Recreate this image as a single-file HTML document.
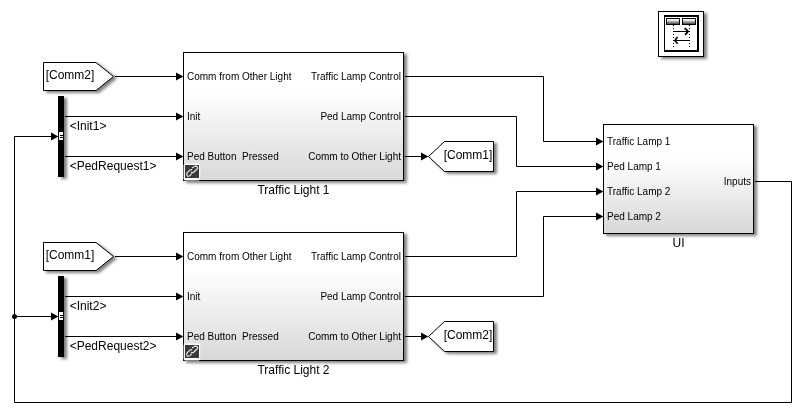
<!DOCTYPE html>
<html><head><meta charset="utf-8">
<style>
html,body{margin:0;padding:0;background:#fff;width:801px;height:413px;overflow:hidden}
svg{display:block;font-family:"Liberation Sans",sans-serif}
.pl{font-size:10px;fill:#000}
.bl{font-size:12px;fill:#000}
</style></head><body>
<svg width="801" height="413" viewBox="0 0 801 413">
<defs>
  <linearGradient id="g" x1="0" y1="0" x2="0" y2="1">
    <stop offset="0.3" stop-color="#ffffff"/>
    <stop offset="1" stop-color="#d8d8d8"/>
  </linearGradient>
  <linearGradient id="hg" x1="0" y1="0" x2="0" y2="1">
    <stop offset="0.15" stop-color="#ffffff"/>
    <stop offset="1" stop-color="#444"/>
  </linearGradient>
  <filter id="sh" x="-20%" y="-20%" width="140%" height="140%">
    <feGaussianBlur in="SourceAlpha" stdDeviation="1.5"/>
    <feOffset dx="2.5" dy="1.8" result="b"/>
    <feComponentTransfer><feFuncA type="linear" slope="0.5"/></feComponentTransfer>
    <feMerge><feMergeNode/><feMergeNode in="SourceGraphic"/></feMerge>
  </filter>
  <filter id="gs" x="0" y="0" width="1" height="1"><feOffset dx="0" dy="0"/></filter>
  <g id="arr"><path d="M-7,-4.1 L0.4,0 L-7,4.1 Z"/></g>
</defs>

<!-- model info icon -->
<g filter="url(#sh)">
  <rect x="658.5" y="11.5" width="45" height="45" fill="#fff" stroke="#000" stroke-width="1"/>
</g>
<g shape-rendering="crispEdges">
  <rect x="664" y="15" width="35" height="37" fill="#000"/>
  <rect x="665" y="17" width="32" height="33" fill="#fff"/>
  <rect x="666" y="18" width="14" height="7" fill="#000"/>
  <rect x="682" y="18" width="14" height="7" fill="#000"/>
  <rect x="667" y="19" width="12" height="5" fill="url(#hg)"/>
  <rect x="683" y="19" width="12" height="5" fill="url(#hg)"/>
  <g fill="#000">
    <rect x="673" y="25" width="1" height="1"/><rect x="689" y="25" width="1" height="1"/>
    <rect x="673" y="28" width="1" height="1"/><rect x="689" y="28" width="1" height="1"/>
    <rect x="673" y="34" width="1" height="1"/><rect x="689" y="34" width="1" height="1"/>
    <rect x="673" y="37" width="1" height="1"/><rect x="689" y="37" width="1" height="1"/>
    <rect x="673" y="43" width="1" height="1"/><rect x="689" y="43" width="1" height="1"/>
    <rect x="673" y="46" width="1" height="1"/><rect x="689" y="46" width="1" height="1"/>
    <rect x="673" y="31" width="17" height="1"/>
    <rect x="673" y="40" width="17" height="1"/>
  </g>
</g>
<path d="M684.5,28.3 Q686.8,29.6 687.9,31.5 Q686.8,33.4 685,34.7 M677.6,37.2 Q675.9,38.8 675.1,40.5 Q675.9,42.2 677.6,43.6" stroke="#000" stroke-width="1.7" fill="none"/>
<path d="M672.8,25 L674.2,25 L673.5,26.5 Z M688.8,25 L690.2,25 L689.5,26.5 Z" fill="#000"/>

<!-- blocks with shadow -->
<g filter="url(#sh)">
  <rect x="183.5" y="52.5" width="220" height="128" fill="url(#g)" stroke="#000"/>
  <rect x="183.5" y="232.5" width="220" height="128" fill="url(#g)" stroke="#000"/>
  <rect x="603.5" y="124.5" width="150" height="109" fill="url(#g)" stroke="#000"/>
  <rect x="58" y="96" width="6" height="81" fill="#000"/>
  <rect x="58" y="276" width="6" height="81" fill="#000"/>
  <polygon points="43.5,62.5 96,62.5 113.5,76.5 96,90.5 43.5,90.5" fill="#fff" stroke="#000"/>
  <polygon points="43.5,242.5 96,242.5 113.5,256.5 96,270.5 43.5,270.5" fill="#fff" stroke="#000"/>
  <polygon points="428.5,156.5 444.5,141.5 493.5,141.5 493.5,171.5 444.5,171.5" fill="#fff" stroke="#000"/>
  <polygon points="428.5,336.5 444.5,321.5 493.5,321.5 493.5,351.5 444.5,351.5" fill="#fff" stroke="#000"/>
</g>

<!-- bus selector input markers -->
<rect x="59" y="132" width="4" height="8" fill="#fff"/>
<path d="M60,135.5 H63 M60,137.5 H63" stroke="#000"/>
<rect x="59" y="312" width="4" height="8" fill="#fff"/>
<path d="M60,315.5 H63 M60,317.5 H63" stroke="#000"/>

<!-- link icons -->
<g id="lnk">
  <rect x="183.6" y="163.6" width="16.6" height="17" rx="1.8" fill="#fff"/>
  <rect x="185" y="165" width="14" height="13" fill="#3a3a3a"/>
  <g fill="none" stroke="#f0f0f0" stroke-width="1.15" stroke-linecap="round">
    <path d="M191.7,169.6 Q190.8,169.4 189.9,170.1 L187.1,172.9 Q186,174.3 187.2,175.7 Q188.5,176.8 190,175.6 L191.4,174.2"/>
    <path d="M192.4,167.7 Q193.5,166.9 194.9,166.3 Q196.6,165.7 197.4,167 Q198,168.2 196.9,169.3 L193.6,172.3 Q192.4,173.1 191.4,172.3"/>
  </g>
</g>
<use href="#lnk" y="180"/>

<!-- lines -->
<g stroke="#000" stroke-width="1" fill="none">
  <path d="M115,76.5 H177"/>
  <path d="M65,116.5 H177"/>
  <path d="M65,156.5 H177"/>
  <path d="M405,76.5 H543.5 V141.5 H597"/>
  <path d="M405,116.5 H516.5 V166.5 H597"/>
  <path d="M405,156.5 H422"/>
  <path d="M115,256.5 H177"/>
  <path d="M65,296.5 H177"/>
  <path d="M65,336.5 H177"/>
  <path d="M405,256.5 H516.5 V191.5 H597"/>
  <path d="M405,296.5 H543.5 V216.5 H597"/>
  <path d="M405,336.5 H422"/>
  <path d="M755,181.5 H791.5 V402.5 H14.5 V136.5 H52"/>
  <path d="M14.5,316.5 H52"/>
</g>
<circle cx="14.5" cy="316.5" r="2.5" fill="#000"/>
<g fill="#000">
  <use href="#arr" x="183" y="76.5"/><use href="#arr" x="183" y="116.5"/><use href="#arr" x="183" y="156.5"/>
  <use href="#arr" x="183" y="256.5"/><use href="#arr" x="183" y="296.5"/><use href="#arr" x="183" y="336.5"/>
  <use href="#arr" x="603" y="141.5"/><use href="#arr" x="603" y="166.5"/><use href="#arr" x="603" y="191.5"/><use href="#arr" x="603" y="216.5"/>
  <use href="#arr" x="428" y="156.5"/><use href="#arr" x="428" y="336.5"/>
  <use href="#arr" x="58" y="136.5"/><use href="#arr" x="58" y="316.5"/>
</g>

<!-- texts -->
<g class="pl" filter="url(#gs)">
  <text x="187" y="80">Comm from Other Light</text>
  <text x="187" y="120">Init</text>
  <text x="187" y="160" xml:space="preserve">Ped Button  Pressed</text>
  <text x="401" y="80" text-anchor="end">Traffic Lamp Control</text>
  <text x="401" y="120" text-anchor="end">Ped Lamp Control</text>
  <text x="401" y="160" text-anchor="end">Comm to Other Light</text>
  <text x="187" y="260">Comm from Other Light</text>
  <text x="187" y="300">Init</text>
  <text x="187" y="340" xml:space="preserve">Ped Button  Pressed</text>
  <text x="401" y="260" text-anchor="end">Traffic Lamp Control</text>
  <text x="401" y="300" text-anchor="end">Ped Lamp Control</text>
  <text x="401" y="340" text-anchor="end">Comm to Other Light</text>
  <text x="607" y="145">Traffic Lamp 1</text>
  <text x="607" y="170">Ped Lamp 1</text>
  <text x="607" y="195">Traffic Lamp 2</text>
  <text x="607" y="220">Ped Lamp 2</text>
  <text x="751" y="185" text-anchor="end">Inputs</text>
</g>
<g class="bl" filter="url(#gs)">
  <text x="70" y="79" text-anchor="middle">[Comm2]</text>
  <text x="70" y="259" text-anchor="middle">[Comm1]</text>
  <text x="468" y="159" text-anchor="middle">[Comm1]</text>
  <text x="468" y="339" text-anchor="middle">[Comm2]</text>
  <text x="69.7" y="130">&lt;Init1&gt;</text>
  <text x="69.7" y="170">&lt;PedRequest1&gt;</text>
  <text x="69.7" y="310">&lt;Init2&gt;</text>
  <text x="69.7" y="350">&lt;PedRequest2&gt;</text>
  <text x="293.5" y="194" text-anchor="middle">Traffic Light 1</text>
  <text x="293.5" y="374" text-anchor="middle">Traffic Light 2</text>
  <text x="678.5" y="247" text-anchor="middle">UI</text>
</g>
</svg>
</body></html>
